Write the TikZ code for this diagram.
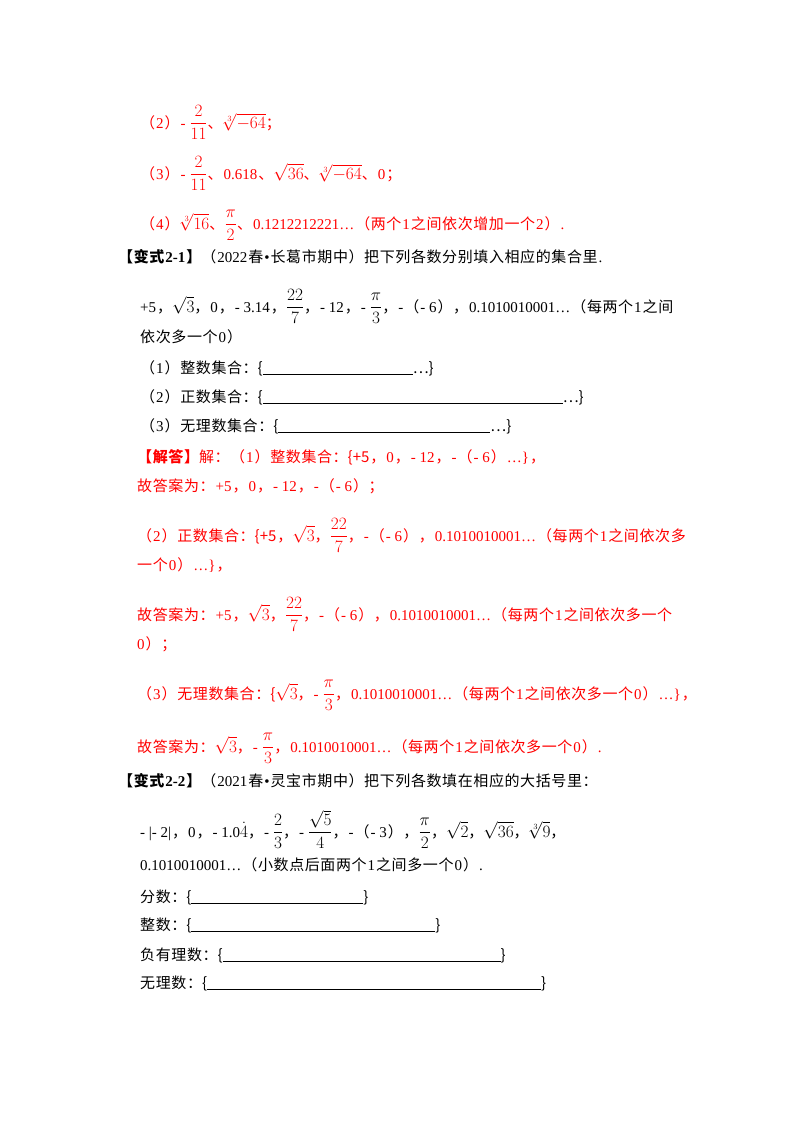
\documentclass[tikz,border=0pt]{standalone}
\usepackage{fontspec}
\setmainfont{Liberation Serif}
\newfontfamily\cjk{Noto Sans CJK SC}
\makeatletter
\XeTeXinterchartokenstate=1
\newXeTeXintercharclass\cjkclass
\count@="3000 \loop \XeTeXcharclass\count@=\cjkclass \advance\count@ 1 \ifnum\count@<"3040 \repeat
\count@="4E00 \loop \XeTeXcharclass\count@=\cjkclass \advance\count@ 1 \ifnum\count@<"A000 \repeat
\count@="FF00 \loop \XeTeXcharclass\count@=\cjkclass \advance\count@ 1 \ifnum\count@<"FFF0 \repeat
\makeatother
\XeTeXinterchartoks 0 \cjkclass = {\hskip1pt\cjk}
\XeTeXinterchartoks 4095 \cjkclass = {\cjk}
\XeTeXinterchartoks \cjkclass 0 = {\rmfamily\hskip1pt}
\XeTeXinterchartoks \cjkclass \cjkclass = {\hskip0.6pt}
\newcommand\fr[2]{\setbox0\hbox{\fontsize{17}{17}\selectfont$\displaystyle\frac{#1}{#2}$}\raisebox{\dp0}{\box0}}
\newcommand\mm[1]{{\fontsize{17}{17}\selectfont$#1$}}
\newcommand\bl[1]{\rule[-2pt]{#1}{0.6pt}}
\definecolor{ansred}{HTML}{FF0000}
\begin{document}
\begin{tikzpicture}[x=1pt,y=-1pt,
  ln/.style={anchor=base west,inner sep=0pt,font=\fontsize{15}{17}\selectfont},
  rd/.style={ln,text=ansred}]
\useasboundingbox (0,0) rectangle (800,1132);
\fill[white] (0,0) rectangle (800,1132);
\node[rd] (a2) at (140,128) {（2）- \fr{2}{11}、\mm{\sqrt[3]{-64}}；};
\node[rd] (a3) at (140,179) {（3）- \fr{2}{11}、0.618、\mm{\sqrt{36}}、\mm{\sqrt[3]{-64}}、0；};
\node[rd] (a4) at (140,229) {（4）\mm{\sqrt[3]{16}}、\fr{\pi}{2}、0.1212212221…（两个1之间依次增加一个2）.};
\node[ln] (h1) at (118,262) {\textbf{【变式2-1】}（2022春•长葛市期中）把下列各数分别填入相应的集合里.};
\node[ln] (l1) at (140,312) {+5，\mm{\sqrt{3}}，0，- 3.14，\fr{22}{7}，- 12，- \fr{\pi}{3}，-（- 6），0.1010010001…（每两个1之间};
\node[ln] (l2) at (140,342) {依次多一个0）};
\node[ln] (q1) at (140,373) {（1）整数集合：{\{}\bl{150pt}…\}};
\node[ln] (q2) at (140,402) {（2）正数集合：{\{}\bl{300pt}…\}};
\node[ln] (q3) at (140,431) {（3）无理数集合：{\{}\bl{212pt}…\}};
\node[rd] (s1) at (137,462) {\textbf{【解答】}解：（1）整数集合：{\{}+5，0，- 12，-（- 6）…\}，};
\node[rd] (s2) at (137,491) {故答案为：+5，0，- 12，-（- 6）；};
\node[rd] (s3) at (137,541) {（2）正数集合：{\{}+5，\mm{\sqrt{3}}，\fr{22}{7}，-（- 6），0.1010010001…（每两个1之间依次多};
\node[rd] (s4) at (137,570) {一个0）…\}，};
\node[rd] (s5) at (137,620) {故答案为：+5，\mm{\sqrt{3}}，\fr{22}{7}，-（- 6），0.1010010001…（每两个1之间依次多一个};
\node[rd] (s6) at (137,649) {0）；};
\node[rd] (s7) at (137,699) {（3）无理数集合：{\{}\mm{\sqrt{3}}，- \fr{\pi}{3}，0.1010010001…（每两个1之间依次多一个0）…\}，};
\node[rd] (s8) at (137,752) {故答案为：\mm{\sqrt{3}}，- \fr{\pi}{3}，0.1010010001…（每两个1之间依次多一个0）.};
\node[ln] (h2) at (118,786) {\textbf{【变式2-2】}（2021春•灵宝市期中）把下列各数填在相应的大括号里：};
\node[ln] (m1) at (140,837) {- |- 2|，0，- 1.0\mm{\dot{4}}，- \fr{2}{3}，- \fr{\sqrt{5}}{4}，-（- 3），\fr{\pi}{2}，\mm{\sqrt{2}}，\mm{\sqrt{36}}，\mm{\sqrt[3]{9}}，};
\node[ln] (m2) at (140,870) {0.1010010001…（小数点后面两个1之间多一个0）.};
\node[ln] (f1) at (140,902) {分数：{\{}\bl{172pt}\}};
\node[ln] (f2) at (140,930) {整数：{\{}\bl{244pt}\}};
\node[ln] (f3) at (140,960) {负有理数：{\{}\bl{278pt}\}};
\node[ln] (f4) at (140,988) {无理数：{\{}\bl{334pt}\}};
\end{tikzpicture}
\end{document}
